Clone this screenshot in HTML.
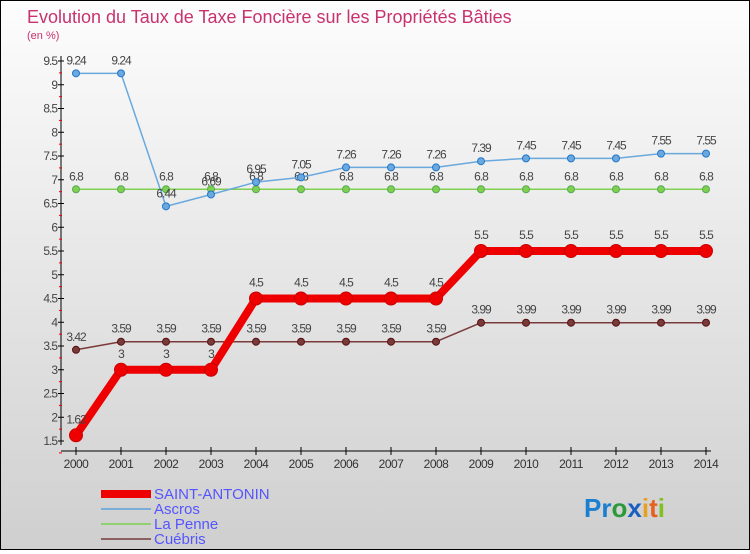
<!DOCTYPE html>
<html><head><meta charset="utf-8"><style>
body{margin:0;width:750px;height:550px;overflow:hidden;font-family:"Liberation Sans",sans-serif}
#wrap{position:relative;width:748px;height:548px;border:1px solid #000;background:linear-gradient(#fdfdfd,#cfcfcf)}
</style></head><body>
<div id="wrap">
<svg id="chart" width="748" height="548" font-family="Liberation Sans, sans-serif">
<text x="26" y="22" font-size="18" fill="#c8326e">Evolution du Taux de Taxe Foncière sur les Propriétés Bâties</text>
<text x="26" y="38" font-size="11" fill="#c8326e">(en %)</text>
<g id="axes"></g><g id="series"></g>
<g>
<rect x="100" y="489" width="50" height="8" fill="#e00"/>
<text x="153" y="498" font-size="15" fill="#55f">SAINT-ANTONIN</text>
<line x1="100" y1="508" x2="150" y2="508" stroke="#7aaed8" stroke-width="2"/>
<text x="153" y="513" font-size="15" fill="#55f">Ascros</text>
<line x1="100" y1="523" x2="150" y2="523" stroke="#8fd070" stroke-width="2"/>
<text x="153" y="528" font-size="15" fill="#55f">La Penne</text>
<line x1="100" y1="538" x2="150" y2="538" stroke="#8a6060" stroke-width="2"/>
<text x="153" y="543" font-size="15" fill="#55f">Cuébris</text>
</g>
<text x="583" y="516" font-size="26" font-weight="bold"><tspan fill="#1a7fd0">Pr</tspan><tspan fill="#2a9a3a">o</tspan><tspan fill="#1a5fc0">x</tspan><tspan fill="#e8a020">i</tspan><tspan fill="#e86020">t</tspan><tspan fill="#80c020">i</tspan></text>
</svg></div>
<script>
const years=[2000,2001,2002,2003,2004,2005,2006,2007,2008,2009,2010,2011,2012,2013,2014];
const saint=[1.62,3,3,3,4.5,4.5,4.5,4.5,4.5,5.5,5.5,5.5,5.5,5.5,5.5];
const ascros=[9.24,9.24,6.44,6.69,6.95,7.05,7.26,7.26,7.26,7.39,7.45,7.45,7.45,7.55,7.55];
const penne=[6.8,6.8,6.8,6.8,6.8,6.8,6.8,6.8,6.8,6.8,6.8,6.8,6.8,6.8,6.8];
const cuebris=[3.42,3.59,3.59,3.59,3.59,3.59,3.59,3.59,3.59,3.99,3.99,3.99,3.99,3.99,3.99];
const yTicks=[1.5,2,2.5,3,3.5,4,4.5,5,5.5,6,6.5,7,7.5,8,8.5,9,9.5];
const NS="http://www.w3.org/2000/svg";
const xs=i=>75+i*45, ys=v=>440-(v-1.5)*47.5;
function mk(t,a,p){const e=document.createElementNS(NS,t);for(const k in a)e.setAttribute(k,a[k]);p.appendChild(e);return e;}
const ax=document.getElementById('axes'), sg=document.getElementById('series');
const yl=mk('line',{x1:60,y1:55,x2:60,y2:444,stroke:'#000'},ax);


const xl=mk('line',{x1:60,y1:450,x2:710,y2:450,stroke:'#000'},ax);


yTicks.forEach(v=>{const y=ys(v);mk('line',{x1:57,y1:y,x2:63,y2:y,stroke:'#000'},ax);
mk('line',{x1:58,y1:y+11.9,x2:61,y2:y+11.9,stroke:'#e00'},ax);
const t=mk('text',{x:56,y:y+4,'font-size':12,'text-anchor':'end',fill:'#444','letter-spacing':'-1'},ax);t.textContent=v;

});
years.forEach((yr,i)=>{const x=xs(i);mk('line',{x1:x,y1:446,x2:x,y2:454,stroke:'#000'},ax);
const t=mk('text',{x:x,y:467,'font-size':12,'text-anchor':'middle',fill:'#333','letter-spacing':'-0.5'},ax);t.textContent=yr;

});
function series(d,col,w,r,name,dark){const g=mk('g',{},sg);


mk('polyline',{points:d.map((v,i)=>xs(i)+','+ys(v)).join(' '),fill:'none',stroke:col,'stroke-width':w,'stroke-linejoin':'round'},g);
d.forEach((v,i)=>{const c=mk('circle',{cx:xs(i),cy:ys(v),r:r,fill:col,stroke:dark,'stroke-width':1},g);


const t=mk('text',{x:xs(i),y:ys(v)-9-(r>5?3:0),'font-size':12,'text-anchor':'middle',fill:'#444','letter-spacing':'-1'},g);t.textContent=v;

});}
series(penne,'#80d050',1.5,3.5,'la-penne','#5a5');
series(ascros,'#6aa8dd',1.5,3.5,'ascros','#27c');
series(cuebris,'#7a3a3a',1.5,3.5,'cuebris','#511');
series(saint,'#ee0000',8,6.5,'saint-antonin','#c00');
</script></body></html>
